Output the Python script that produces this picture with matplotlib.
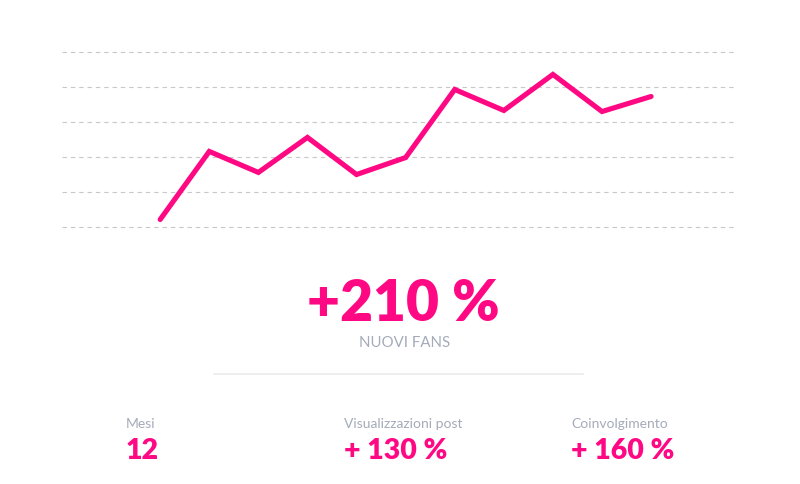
import matplotlib
matplotlib.use('Agg')
import matplotlib.pyplot as plt
import numpy as np

# Data
MONTH_INDEX = list(range(11))
FANS_VALUES = [4, 42.9, 30.9, 50.9, 29.7, 39.4, 78.3, 66.3, 86.9, 65.7, 74.3]
GRID_LEVELS = [0, 20, 40, 60, 80, 100]

HEADLINE_VALUE = '+210 %'
HEADLINE_LABEL = 'NUOVI FANS'
STAT_LABELS = ['Mesi', 'Visualizzazioni post', 'Coinvolgimento']
STAT_VALUES = ['12', '+ 130 %', '+ 160 %']

# Style
PINK = '#ff0883'
GREY_TEXT = '#a4abb9'
GRID_COLOR = '#c8c8c8'
FIG_W, FIG_H = 800, 485
DPI = 100

plt.rcParams['font.family'] = ['Lato', 'DejaVu Sans']


def fx(px):
    return px / FIG_W


def fy(py):
    return 1 - py / FIG_H


def main():
    fig = plt.figure(figsize=(FIG_W / DPI, FIG_H / DPI), dpi=DPI)
    fig.patch.set_facecolor('white')

    # axes spans px 62..737 horizontally, 41.5..241.5 vertically
    ax = fig.add_axes([fx(62), fy(241.5), (737 - 62) / FIG_W, 200 / FIG_H])
    ax.set_xlim(-2.0, 11.75)
    ax.set_ylim(-8, 106.29)
    for level in GRID_LEVELS:
        ax.axhline(level, color=GRID_COLOR, lw=0.8, linestyle=(0, (4, 3.5)), zorder=1)
    ax.plot(MONTH_INDEX, FANS_VALUES, color=PINK, lw=3.7,
            solid_joinstyle='miter', solid_capstyle='round', zorder=3)
    ax.axis('off')

    # headline
    fig.text(fx(403), fy(304), HEADLINE_VALUE, color=PINK, fontsize=41,
             fontweight='heavy', ha='center', va='center')
    fig.text(fx(405), fy(343), HEADLINE_LABEL, color=GREY_TEXT, fontsize=10.8,
             ha='center', va='center')

    # separator
    fig.add_artist(plt.Line2D([fx(214), fx(583)], [fy(375), fy(375)],
                              color='#ebebeb', lw=1.2))

    # bottom stats
    x_lefts = [126, 344, 571]
    for x, label, value in zip(x_lefts, STAT_LABELS, STAT_VALUES):
        fig.text(fx(x), fy(424), label, color=GREY_TEXT, fontsize=10,
                 ha='left', va='center')
        fig.text(fx(x), fy(451), value, color=PINK, fontsize=20.5,
                 fontweight='heavy', ha='left', va='center')

    fig.savefig('out.png', dpi=DPI, facecolor='white')


if __name__ == '__main__':
    main()
